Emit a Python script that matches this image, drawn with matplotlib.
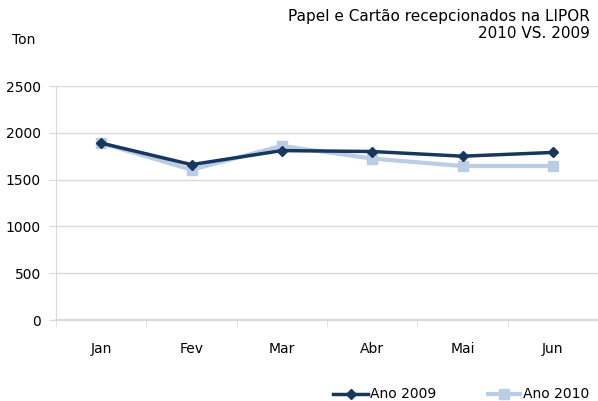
import matplotlib
matplotlib.use("Agg")
import matplotlib.pyplot as plt
from matplotlib.lines import Line2D

months = ["Jan", "Fev", "Mar", "Abr", "Mai", "Jun"]
ano_2009 = [1890, 1660, 1810, 1800, 1750, 1790]
ano_2010 = [1890, 1605, 1860, 1725, 1645, 1645]
yticks = [0, 500, 1000, 1500, 2000, 2500]
series_names = ["Ano 2009", "Ano 2010"]

dark = "#17375E"
light = "#B9CDE5"

W, H = 598, 401
fig = plt.figure(figsize=(W / 100, H / 100), dpi=100)
ax = fig.add_axes([56 / W, 1 - 320 / H, (598 - 56) / W, (320 - 86) / H])

x = list(range(len(months)))
ax.plot(x, ano_2010, color=light, lw=3, marker="s", ms=7, zorder=3)
ax.plot(x, ano_2009, color=dark, lw=2.5, marker="D", ms=5, zorder=4)

ax.set_xlim(-0.5, len(months) - 0.5)
ax.set_ylim(0, 2500)
ax.set_yticks(yticks)
ax.set_yticklabels([str(v) for v in yticks], fontsize=10)
ax.set_xticks(x)
ax.set_xticklabels(months, fontsize=10)
ax.tick_params(axis="x", length=0, pad=16)
ax.tick_params(axis="y", length=5, color="#D9D9D9", pad=6)
ax.set_xticks([i - 0.5 for i in range(len(months) + 1)], minor=True)
ax.tick_params(axis="x", which="minor", length=5, color="#D9D9D9", direction="out")
ax.grid(axis="y", color="#D9D9D9", lw=1)
ax.set_axisbelow(True)
for s in ["top", "right"]:
    ax.spines[s].set_visible(False)
ax.spines["left"].set_color("#D9D9D9")
ax.spines["bottom"].set_color("#D9D9D9")
ax.spines["bottom"].set_linewidth(1.5)

fig.text(590 / W, 1 - 16 / H, "Papel e Cartão recepcionados na LIPOR",
         ha="right", va="center", fontsize=11)
fig.text(590 / W, 1 - 34 / H, "2010 VS. 2009",
         ha="right", va="center", fontsize=11)
fig.text(12 / W, 1 - 40 / H, "Ton", ha="left", va="center", fontsize=10)

# manual legend
ly = 1 - 394 / H
leg = [(333, 368, 370, dark, "D", 5, 2.5), (488, 520, 523, light, "s", 7, 3)]
for (x0, x1, tx, c, m, ms, lw), name in zip(leg, series_names):
    fig.add_artist(Line2D([x0 / W, x1 / W], [ly, ly], color=c, lw=lw, transform=fig.transFigure))
    fig.add_artist(Line2D([(x0 + x1) / 2 / W], [ly], color=c, marker=m, ms=ms, lw=0,
                          transform=fig.transFigure))
    fig.text(tx / W, ly, name, ha="left", va="center", fontsize=10)

fig.savefig("out.png", dpi=100)
